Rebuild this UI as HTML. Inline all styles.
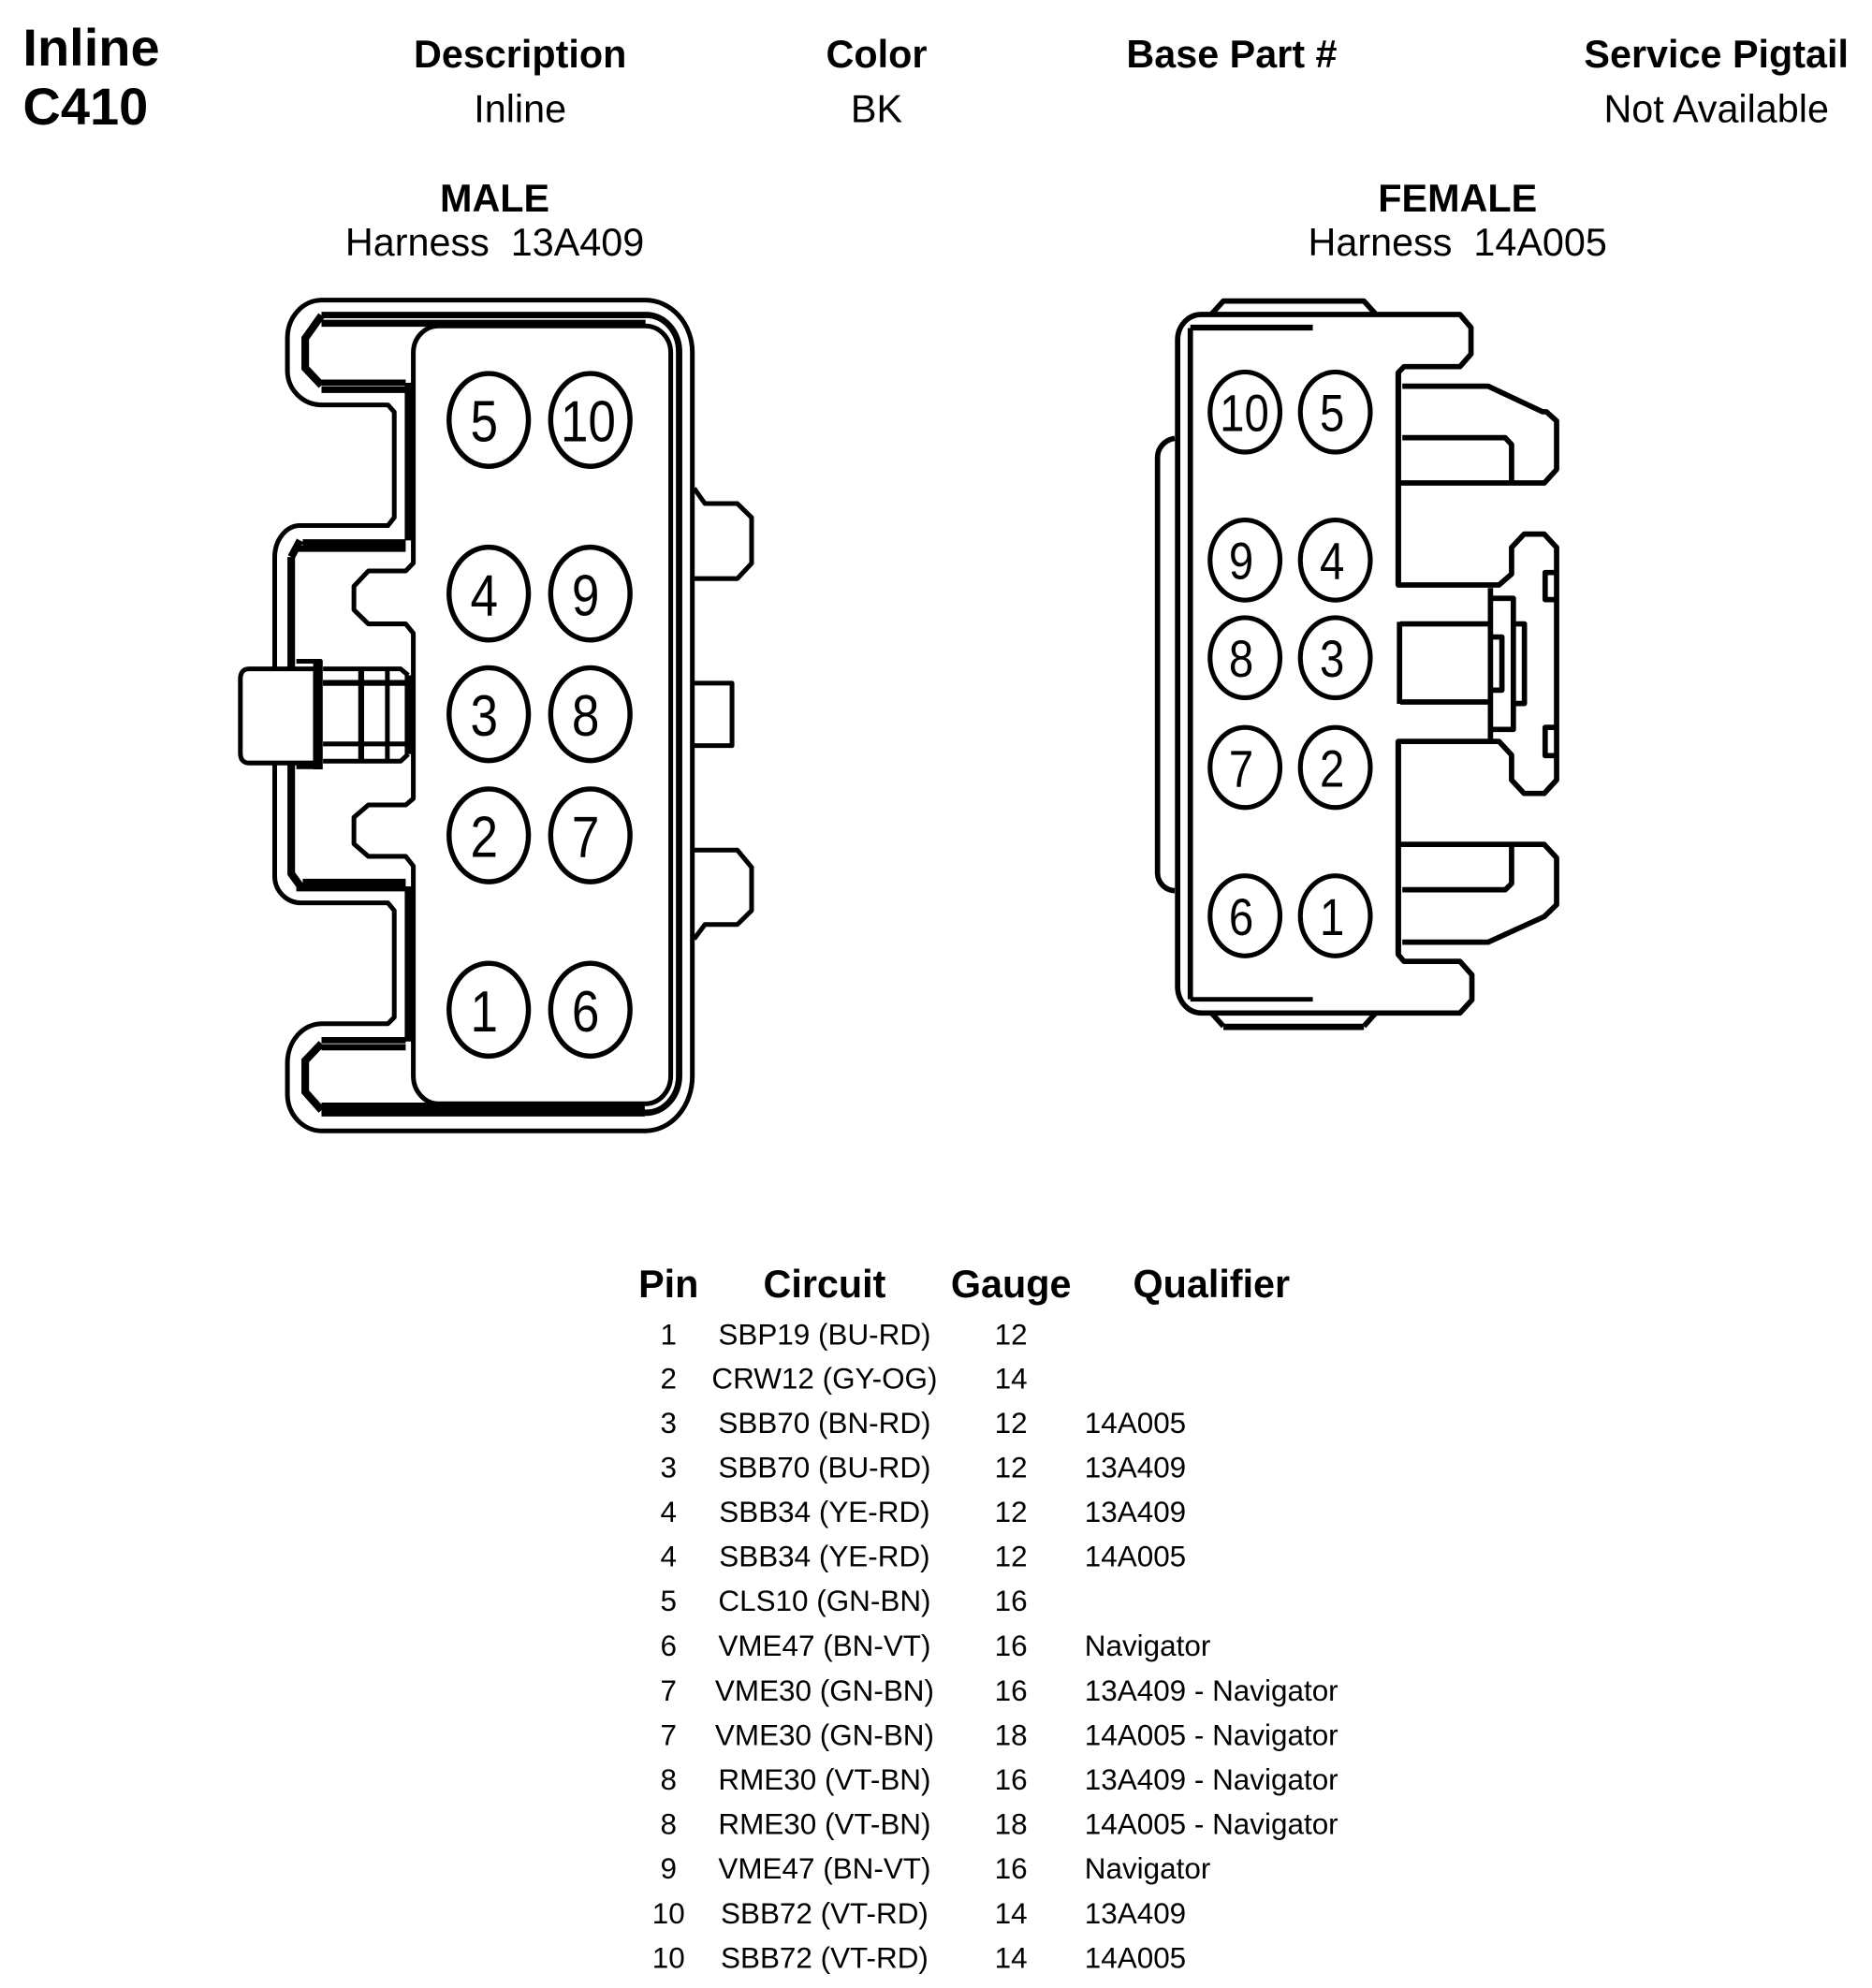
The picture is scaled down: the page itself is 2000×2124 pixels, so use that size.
<!DOCTYPE html>
<html><head><meta charset="utf-8"><style>
html,body{margin:0;padding:0;background:#fff}
svg{display:block}
text{font-family:"Liberation Sans",sans-serif;fill:#000}
.b{font-weight:bold;font-size:30.5px;text-anchor:middle}
.r{font-size:30.5px;text-anchor:middle}
.t{font-size:23.2px;text-anchor:middle}
.q{font-size:23.2px}
.l{fill:none;stroke:#000;stroke-width:3.7;stroke-linejoin:round}
.k{fill:none;stroke:#000;stroke-width:5}
.m{font-size:46px;text-anchor:middle}
.f{font-size:41px;text-anchor:middle}
.fm .l{stroke-width:4.2}
</style></head><body>
<svg xmlns="http://www.w3.org/2000/svg" width="2000" height="2124" viewBox="0 0 1472 1563.3">
<rect width="1472" height="1563.3" fill="#fff"/>
<g transform="scale(.9975)">
<text x="18" y="51.5" style="font-weight:bold;font-size:41.3px">Inline</text>
<text x="18" y="98" style="font-weight:bold;font-size:41.3px">C410</text>
<text class="b" x="410" y="53">Description</text><text class="r" x="410" y="96.4">Inline</text>
<text class="b" x="691" y="53">Color</text><text class="r" x="691" y="96.4">BK</text>
<text class="b" x="971" y="53">Base Part #</text>
<text class="b" x="1353" y="53">Service Pigtail</text><text class="r" x="1353" y="96.4">Not Available</text>
<text class="b" x="390" y="166.6">MALE</text><text class="r" x="390" y="201.3" xml:space="preserve">Harness  13A409</text>
<text class="b" x="1149" y="166.6">FEMALE</text><text class="r" x="1149" y="201.3" xml:space="preserve">Harness  14A005</text>
</g>

<!-- MALE -->
<path class="l" d="M252.8 236H507.6A37 41 0 0 1 544.4 277V846A37 43 0 0 1 507.6 889.3H252.8A27 29 0 0 1 226 861V836.5A27 31 0 0 1 252.8 805H305L310 800V716L305 710H237A21 21 0 0 1 216 689V438A20 25 0 0 1 236 413.3H305L310 407V324L305 318.4H252.8A27 27 0 0 1 226 292V266A27 30 0 0 1 252.8 236Z"/>
<path class="k" d="M252.8 247.7H507.6A26 29 0 0 1 534 277V846A26 29 0 0 1 507.6 875H252.8"/>
<path class="k" style="stroke-width:6" d="M252.8 248L240 266V289.4L252.8 303"/>
<path class="k" style="stroke-width:6" d="M252.8 820.6L240 834V858.6L252.8 873"/>
<path class="k" style="stroke-width:5.6" d="M252.8 254.2H507.6"/>
<path class="l" d="M344.8 256.3H507.6A20 21 0 0 1 527.4 277V846A20 22 0 0 1 507.6 868H344.8A20 22 0 0 1 325 846V689V681L319 673.4H289.6L278.3 663.6V642.7L289.6 633H319L325 628V498L319 490.6H289.6L278.3 479.6V461L289.6 449H319L325 442.8V277A20 21 0 0 1 344.8 256.3Z"/>
<path class="k" style="stroke-width:11" d="M252.8 872.5H507"/>
<path class="k" style="stroke-width:7.5" d="M322 301V425M322 697V819M322 531V593"/>
<path class="k" style="stroke-width:5" d="M252.8 301H319M252.8 306.5H319M238 426.5H319M233 431.5H319M252.8 818H319M252.8 823.5H319M238 693.5H319M233 698.5H319"/>
<path class="k" style="stroke-width:6" d="M229 438V525M229 601V687L237 698M229 438L236 425"/>
<path class="l" d="M545.8 384L554.3 396H579.8L591 407V443L579.8 455H545M545 668.5H579.8L591 682V716L579.8 727H554.3L545.8 738.4M545.8 537.2H575.6V586.3H545.8"/>
<path d="M196 526H248V600H196Q189 600 189 592V534Q189 526 196 526Z" fill="#fff" stroke="#000" stroke-width="3.7"/>
<path class="k" style="stroke-width:7.5" d="M250 519V605"/>
<path class="l" d="M233 520H253M233 603H253M254 526H315L321 531M254 537H319M254 585H319M254 598.6H315L321 593M304.6 526V598.6"/>
<path class="k" style="stroke-width:4.6" d="M284 526V598.6M254 537H319"/>

<g fill="#fff" stroke="#000" stroke-width="4">
<ellipse cx="384.3" cy="330.2" rx="31.2" ry="36.5"/><ellipse cx="464.2" cy="330.2" rx="31.2" ry="36.5"/>
<ellipse cx="384.3" cy="466.8" rx="31.2" ry="36.5"/><ellipse cx="464.2" cy="466.8" rx="31.2" ry="36.5"/>
<ellipse cx="384.3" cy="561.6" rx="31.2" ry="36.5"/><ellipse cx="464.2" cy="561.6" rx="31.2" ry="36.5"/>
<ellipse cx="384.3" cy="656.9" rx="31.2" ry="36.5"/><ellipse cx="464.2" cy="656.9" rx="31.2" ry="36.5"/>
<ellipse cx="384.3" cy="794" rx="31.2" ry="36.5"/><ellipse cx="464.2" cy="794" rx="31.2" ry="36.5"/>
</g>
<g>
<text class="m" transform="translate(380.7,347.2) scale(.85,1)">5</text><text class="m" transform="translate(462.5,347.2) scale(.85,1)">10</text>
<text class="m" transform="translate(380.7,483.8) scale(.85,1)">4</text><text class="m" transform="translate(460.5,483.8) scale(.85,1)">9</text>
<text class="m" transform="translate(380.7,578.6) scale(.85,1)">3</text><text class="m" transform="translate(460.5,578.6) scale(.85,1)">8</text>
<text class="m" transform="translate(380.7,673.9) scale(.85,1)">2</text><text class="m" transform="translate(460.5,673.9) scale(.85,1)">7</text>
<text class="m" transform="translate(380.7,811) scale(.85,1)">1</text><text class="m" transform="translate(460.5,811) scale(.85,1)">6</text>
</g>

<!-- FEMALE -->
<g class="fm">
<path class="l" d="M953 246.6L962 236.7H1072.5L1081.4 246.6"/>
<path class="l" d="M944.5 247.3H1148L1156.7 257.6V278.4L1148 288.3H1104L1099.5 293V460H1178.7L1188.6 451.4V430.5L1198.4 420H1214.3L1224 430.5V613.3L1214.3 623.9H1198.4L1188.6 613.3V593.7L1178.7 583H1099.5V750.7L1104 756H1148L1157.4 766.6V786.3L1148 796.6H944.5A18.5 21 0 0 1 926 775.2V267.4A18.5 20 0 0 1 944.5 247.3Z"/>
<path class="k" style="stroke-width:4.4" d="M1099.5 293V460M1099.5 583V750"/>
<path class="l" d="M936 258V785.8"/>
<path class="k" style="stroke-width:4.6" d="M936 257.6H1032.3"/>
<path class="k" style="stroke-width:3.6" d="M936 785.8H1032.3"/>
<path class="l" d="M953 797L962 807M1072.5 807L1081.4 797"/>
<path class="k" d="M962 807.5H1072.5"/>
<path class="l" d="M923.7 344.7A16 15 0 0 0 910.2 359.4V687A14 14 0 0 0 923.7 700.4"/>
<path class="l" d="M1102.7 303.7H1170.2L1213 323.8H1216L1224 331V369.2L1214.3 379.8H1100M1102.7 344.2H1183.6L1188.6 349.6V379.8"/>
<path class="l" d="M1100 664H1214.3L1224 674.6V711.4L1214.3 720.8L1170.2 740.9H1102.7M1102.7 699.7H1183.6L1188.6 694.8V664"/>
<path class="k" style="stroke-width:4.2" d="M1101 490.6H1172M1101 552H1172M1100.5 489V553.5"/>
<path class="l" d="M1172 462.4V581.4M1172 470.5H1190V573.6H1172M1190 490.6H1198.7V553.2H1190M1172 500.9H1181V542.7H1172M1224 450.2H1215V471.5H1224M1224 572H1215V594.2H1224"/>
</g>
<g fill="#fff" stroke="#000" stroke-width="3.8">
<ellipse cx="979" cy="324" rx="27.5" ry="31.5"/><ellipse cx="1050" cy="324" rx="27.5" ry="31.5"/>
<ellipse cx="979" cy="440.4" rx="27.5" ry="31.5"/><ellipse cx="1050" cy="440.4" rx="27.5" ry="31.5"/>
<ellipse cx="979" cy="517.2" rx="27.5" ry="31.5"/><ellipse cx="1050" cy="517.2" rx="27.5" ry="31.5"/>
<ellipse cx="979" cy="603.5" rx="27.5" ry="31.5"/><ellipse cx="1050" cy="603.5" rx="27.5" ry="31.5"/>
<ellipse cx="979" cy="720.2" rx="27.5" ry="31.5"/><ellipse cx="1050" cy="720.2" rx="27.5" ry="31.5"/>
</g>
<g>
<text class="f" transform="translate(978.5,339) scale(.85,1)">10</text><text class="f" transform="translate(1047.5,339) scale(.85,1)">5</text>
<text class="f" transform="translate(976,455.4) scale(.85,1)">9</text><text class="f" transform="translate(1047.5,455.4) scale(.85,1)">4</text>
<text class="f" transform="translate(976,532.2) scale(.85,1)">8</text><text class="f" transform="translate(1047.5,532.2) scale(.85,1)">3</text>
<text class="f" transform="translate(976,618.5) scale(.85,1)">7</text><text class="f" transform="translate(1047.5,618.5) scale(.85,1)">2</text>
<text class="f" transform="translate(976,735.2) scale(.85,1)">6</text><text class="f" transform="translate(1047.5,735.2) scale(.85,1)">1</text>
</g>

<!-- TABLE -->
<g transform="translate(0,-0.4) scale(.9975)">
<text class="b" x="527" y="1023">Pin</text><text class="b" x="650" y="1023">Circuit</text><text class="b" x="797" y="1023">Gauge</text><text class="b" x="955" y="1023">Qualifier</text>
</g>
<g transform="translate(0,-1.2) scale(.9975)">
<text class="t" x="527" y="1061">1</text><text class="t" x="650" y="1061">SBP19 (BU-RD)</text><text class="t" x="797" y="1061">12</text>
<text class="t" x="527" y="1096">2</text><text class="t" x="650" y="1096">CRW12 (GY-OG)</text><text class="t" x="797" y="1096">14</text>
<text class="t" x="527" y="1131">3</text><text class="t" x="650" y="1131">SBB70 (BN-RD)</text><text class="t" x="797" y="1131">12</text><text class="q" x="855" y="1131">14A005</text>
<text class="t" x="527" y="1166">3</text><text class="t" x="650" y="1166">SBB70 (BU-RD)</text><text class="t" x="797" y="1166">12</text><text class="q" x="855" y="1166">13A409</text>
<text class="t" x="527" y="1201">4</text><text class="t" x="650" y="1201">SBB34 (YE-RD)</text><text class="t" x="797" y="1201">12</text><text class="q" x="855" y="1201">13A409</text>
<text class="t" x="527" y="1236">4</text><text class="t" x="650" y="1236">SBB34 (YE-RD)</text><text class="t" x="797" y="1236">12</text><text class="q" x="855" y="1236">14A005</text>
<text class="t" x="527" y="1271">5</text><text class="t" x="650" y="1271">CLS10 (GN-BN)</text><text class="t" x="797" y="1271">16</text>
<text class="t" x="527" y="1306.5">6</text><text class="t" x="650" y="1306.5">VME47 (BN-VT)</text><text class="t" x="797" y="1306.5">16</text><text class="q" x="855" y="1306.5">Navigator</text>
<text class="t" x="527" y="1342">7</text><text class="t" x="650" y="1342">VME30 (GN-BN)</text><text class="t" x="797" y="1342">16</text><text class="q" x="855" y="1342">13A409 - Navigator</text>
<text class="t" x="527" y="1377">7</text><text class="t" x="650" y="1377">VME30 (GN-BN)</text><text class="t" x="797" y="1377">18</text><text class="q" x="855" y="1377">14A005 - Navigator</text>
<text class="t" x="527" y="1412">8</text><text class="t" x="650" y="1412">RME30 (VT-BN)</text><text class="t" x="797" y="1412">16</text><text class="q" x="855" y="1412">13A409 - Navigator</text>
<text class="t" x="527" y="1447">8</text><text class="t" x="650" y="1447">RME30 (VT-BN)</text><text class="t" x="797" y="1447">18</text><text class="q" x="855" y="1447">14A005 - Navigator</text>
<text class="t" x="527" y="1482">9</text><text class="t" x="650" y="1482">VME47 (BN-VT)</text><text class="t" x="797" y="1482">16</text><text class="q" x="855" y="1482">Navigator</text>
<text class="t" x="527" y="1517.5">10</text><text class="t" x="650" y="1517.5">SBB72 (VT-RD)</text><text class="t" x="797" y="1517.5">14</text><text class="q" x="855" y="1517.5">13A409</text>
<text class="t" x="527" y="1552.5">10</text><text class="t" x="650" y="1552.5">SBB72 (VT-RD)</text><text class="t" x="797" y="1552.5">14</text><text class="q" x="855" y="1552.5">14A005</text>
</g>
</svg>
</body></html>
